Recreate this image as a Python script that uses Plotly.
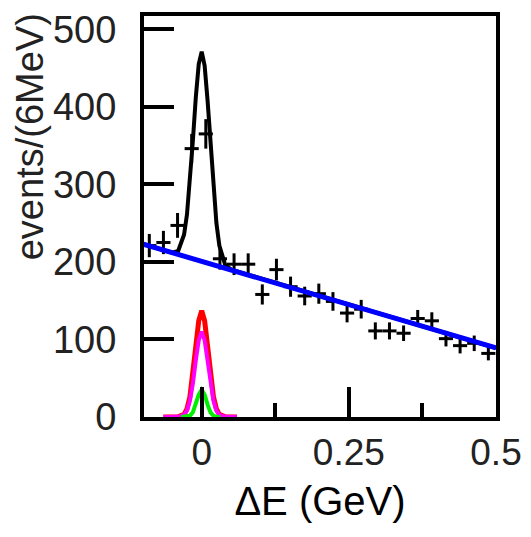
import plotly.graph_objects as go

# measured data points
x_data = [-0.089, -0.065, -0.041, -0.017, 0.007, 0.031, 0.055, 0.079, 0.103, 0.127,
          0.151, 0.175, 0.199, 0.223, 0.247, 0.271, 0.295, 0.319, 0.343, 0.367,
          0.391, 0.415, 0.439, 0.463, 0.487]
y_data = [221, 225, 247, 346, 365, 204, 197, 197, 158, 190,
          168, 156, 159, 149, 134, 139, 111, 111, 108, 127,
          124, 101, 92, 95, 82]
y_err = [15, 15, 16, 19, 19, 14, 14, 14, 13, 14,
         13, 12, 13, 12, 12, 12, 11, 11, 10, 11,
         11, 10, 10, 10, 9]
x_halfbin = 0.012

# total fit curve
x_fit = [-0.1, -0.05, -0.04, -0.03, -0.025, -0.02, -0.015, -0.01, -0.005, 0.0,
         0.005, 0.01, 0.015, 0.02, 0.025, 0.03, 0.04, 0.05, 0.5]
y_fit = [223, 212, 214, 235, 261, 303, 356, 412, 455, 471,
         453, 408, 349, 294, 250, 221, 196, 190, 89]

# background line
x_bkg = [-0.1, 0.5]
y_bkg = [223, 89]

# signal components
x_sig = [-0.065, -0.04, -0.03, -0.025, -0.02, -0.015, -0.01, -0.005, 0.0,
         0.005, 0.01, 0.015, 0.02, 0.025, 0.03, 0.04, 0.06]
y_red = [0, 0.2, 3.3, 10.4, 26, 54, 91, 124, 137, 124, 91, 54, 26, 10.4, 3.3, 0.2, 0]
y_mag = [0, 0.2, 2.7, 8.3, 21, 43, 73, 99, 110, 99, 73, 43, 21, 8.3, 2.7, 0.2, 0]

x_grn = [-0.035, -0.025, -0.02, -0.015, -0.01, -0.005, 0.0, 0.005, 0.01, 0.015, 0.02, 0.025, 0.032]
y_grn = [0, 0.3, 1.5, 6, 16, 29, 35, 29, 16, 6, 1.5, 0.3, 0]

fig = go.Figure()
fig.add_trace(go.Scatter(x=x_sig, y=y_red, mode="lines",
                         line=dict(color="#ff0000", width=5), showlegend=False))
fig.add_trace(go.Scatter(x=x_sig, y=y_mag, mode="lines",
                         line=dict(color="#ff00ff", width=4), showlegend=False))
fig.add_trace(go.Scatter(x=x_grn, y=y_grn, mode="lines",
                         line=dict(color="#00ee00", width=4), showlegend=False))
fig.add_trace(go.Scatter(x=x_data, y=y_data, mode="markers",
                         marker=dict(color="black", size=3),
                         error_y=dict(type="data", array=y_err, color="black", thickness=3, width=0),
                         error_x=dict(type="constant", value=x_halfbin, color="black", thickness=3, width=0),
                         showlegend=False))
fig.add_trace(go.Scatter(x=x_fit, y=y_fit, mode="lines",
                         line=dict(color="black", width=4), showlegend=False))
fig.add_trace(go.Scatter(x=x_bkg, y=y_bkg, mode="lines",
                         line=dict(color="#0000ff", width=5), showlegend=False))

font_family = "Liberation Sans, Arial, sans-serif"

fig.update_layout(
    width=531, height=537,
    margin=dict(l=144, r=33, t=9, b=120),
    plot_bgcolor="white", paper_bgcolor="white",
    font=dict(family=font_family, size=37, color="black"),
    xaxis=dict(
        range=[-0.098, 0.5],
        tickmode="array", tickvals=[0, 0.25, 0.5], ticktext=["0", "0.25", "0.5"],
        ticks="inside", ticklen=30, tickwidth=4, tickcolor="black",
        tickfont=dict(size=37, color="#222"),
        minor=dict(tickmode="array", tickvals=[0.125, 0.375], ticks="inside", ticklen=14, tickwidth=4, tickcolor="black"),
        showline=True, linewidth=4, linecolor="black", mirror=True,
        showgrid=False, zeroline=False, layer="above traces",
        title=dict(text="ΔE (GeV)", font=dict(size=40, family=font_family), standoff=16),
    ),
    yaxis=dict(
        range=[0, 517],
        tickmode="array", tickvals=[0, 100, 200, 300, 400, 500],
        ticks="inside", ticklen=30, tickwidth=4, tickcolor="black",
        tickfont=dict(size=38, color="#222"),
        ticklabelstandoff=16,
        showline=True, linewidth=4, linecolor="black", mirror=True,
        showgrid=False, zeroline=False, layer="above traces",
    ),
    annotations=[dict(
        text="events/(6MeV)", textangle=-90, xref="paper", yref="paper",
        x=-0.325, y=1.012, xanchor="center", yanchor="top", showarrow=False,
        font=dict(size=38, family=font_family, color="#222"),
    )],
)

fig.write_html("out.html")
